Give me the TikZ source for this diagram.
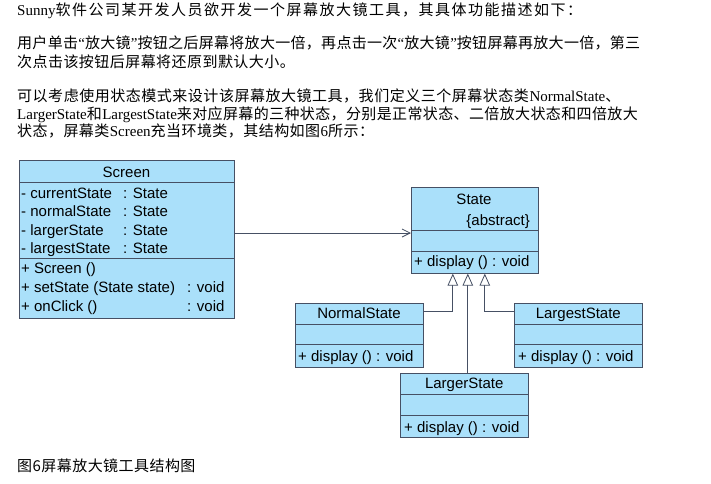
\documentclass[tikz,border=0pt]{standalone}
\usepackage{fontspec}
\setmainfont{Liberation Serif}
\newfontfamily\cjk{Noto Sans CJK SC}
\newfontfamily\umlfont{Liberation Sans}
\usetikzlibrary{arrows.meta}

\definecolor{umlblue}{RGB}{170,224,250}
\definecolor{umledge}{RGB}{70,80,100}

\tikzset{
  classbox/.style={draw=umledge, fill=umlblue, line width=0.9pt, anchor=north west, inner sep=0pt},
  classname/.style={font=\umlfont\fontsize{15}{18}\selectfont, inner sep=0pt, anchor=base},
  member/.style={font=\umlfont\fontsize{15}{18}\selectfont, inner sep=0pt, anchor=base west},
  para/.style={font=\cjk\fontsize{15}{18}\selectfont\addfontfeature{LetterSpace=#1}, inner sep=0pt, anchor=base west},
  para/.default=0,
  sep/.style={draw=umledge, line width=0.9pt},
  assoc/.style={draw=umledge, line width=0.8pt, -{Straight Barb[length=8pt,width=8pt]}},
  inherit/.style={draw=umledge, line width=0.8pt, -{Triangle[length=12pt,width=10.5pt,fill=white]}}
}

\begin{document}
\begin{tikzpicture}[x=1pt, y=-1pt]
\useasboundingbox (0,0) rectangle (711,483);

% text above the figure
\node[para=10] (p1) at (17,15) {\textrm{Sunny}软件公司某开发人员欲开发一个屏幕放大镜工具，其具体功能描述如下：};
\node[para=2] (p2) at (17,48) {用户单击\textrm{“}放大镜\textrm{”}按钮之后屏幕将放大一倍，再点击一次\textrm{“}放大镜\textrm{”}按钮屏幕再放大一倍，第三};
\node[para=3] (p3) at (17,67) {次点击该按钮后屏幕将还原到默认大小。};
\node[para=3.5] (p4) at (17,101) {可以考虑使用状态模式来设计该屏幕放大镜工具，我们定义三个屏幕状态类\textrm{NormalState}、};
\node[para=2.5] (p5) at (17,119) {\textrm{LargerState}和\textrm{LargestState}来对应屏幕的三种状态，分别是正常状态、二倍放大状态和四倍放大};
\node[para=3] (p6) at (17,136) {状态，屏幕类\textrm{Screen}充当环境类，其结构如图\textrm{6}所示：};
\node[para=3] (caption) at (17,471) {图6屏幕放大镜工具结构图};

% Screen
\node[classbox, minimum width=215pt, minimum height=158pt] (screen) at (19,160) {};
\draw[sep] (19,182) -- (234,182);
\draw[sep] (19,258) -- (234,258);
\node[classname] (screen-name) at (126.5,177) {Screen};
\node[member] (cur) at (21,198.5) {- currentState};
\node[member] (cur-t) at (123,198.5) {: State};
\node[member] (nor) at (21,216.5) {- normalState};
\node[member] (nor-t) at (123,216.5) {: State};
\node[member] (lar) at (21,235) {- largerState};
\node[member] (lar-t) at (123,235) {: State};
\node[member] (lst) at (21,253.5) {- largestState};
\node[member] (lst-t) at (123,253.5) {: State};
\node[member] (ctor) at (21,273) {+ Screen ()};
\node[member] (set) at (21,292) {+ setState (State state)};
\node[member] (set-t) at (187,292) {: void};
\node[member] (click) at (21,311) {+ onClick ()};
\node[member] (click-t) at (187,311) {: void};

% State
\node[classbox, minimum width=126.7pt, minimum height=85.4pt] (state) at (411,187.3) {};
\draw[sep] (411,230.7) -- (537.7,230.7);
\draw[sep] (411,251) -- (537.7,251);
\node[classname] (state-name) at (474,204.5) {State};
\node[classname, anchor=base east] (state-abs) at (530,225) {\{abstract\}};
\node[member] (state-op) at (414,266.5) {+ display () : void};

% NormalState
\node[classbox, minimum width=128pt, minimum height=64pt] (normal) at (295,302.7) {};
\draw[sep] (295,324) -- (423,324);
\draw[sep] (295,344.3) -- (423,344.3);
\node[classname] (normal-name) at (359,318.5) {NormalState};
\node[member] (normal-op) at (298,361) {+ display () : void};

% LargestState
\node[classbox, minimum width=128pt, minimum height=64pt] (largest) at (514.3,302.7) {};
\draw[sep] (514.3,324) -- (642.3,324);
\draw[sep] (514.3,344.3) -- (642.3,344.3);
\node[classname] (largest-name) at (578.3,318.5) {LargestState};
\node[member] (largest-op) at (518,361) {+ display () : void};

% LargerState
\node[classbox, minimum width=128.3pt, minimum height=64pt] (larger) at (400,372.7) {};
\draw[sep] (400,394) -- (528.3,394);
\draw[sep] (400,415) -- (528.3,415);
\node[classname] (larger-name) at (464.2,388.5) {LargerState};
\node[member] (larger-op) at (404,432) {+ display () : void};

% relations
\coordinate (link) at (411,233);
\draw[assoc] (screen.east |- link) -- (link);
\draw[inherit] ([yshift=-9pt]normal.north east) -| ([xshift=-22pt]state.south);
\draw[inherit] ([xshift=-7pt]state.south |- larger.north) -- ([xshift=-7pt]state.south);
\draw[inherit] ([yshift=-9pt]largest.north west) -| ([xshift=10pt]state.south);
\end{tikzpicture}
\end{document}
